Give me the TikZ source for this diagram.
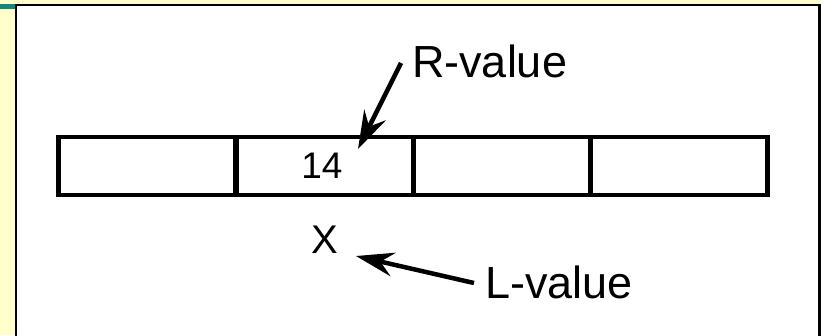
\documentclass[tikz,border=0pt]{standalone}
\usepackage{fontspec}
\setmainfont{Liberation Sans}
\usetikzlibrary{arrows.meta}
\definecolor{bgyellow}{RGB}{255,255,204}
\definecolor{tealbar}{RGB}{20,135,120}
\tikzset{
  cellbox/.style={draw=black, line width=4.5pt, minimum width=177pt, minimum height=58pt, inner sep=0pt, outer sep=0pt},
  lbl/.style={inner sep=0pt, outer sep=0pt, font=\fontsize{45}{54}\selectfont},
  valtxt/.style={inner sep=0pt, outer sep=0pt, font=\fontsize{37}{44}\selectfont},
  ptr/.style={line width=4.5pt, -{Stealth[length=38pt, width=24pt, inset=13pt]}}
}
\begin{document}
\begin{tikzpicture}[x=1pt, y=-1pt]
  \useasboundingbox (0,0) rectangle (821,335);
  \fill[bgyellow] (0,0) rectangle (821,335);
  \fill[tealbar] (0,4) rectangle (15,9);
  \fill[white] (16,5) rectangle (819.5,340);
  \draw[line width=2.5pt] (16,340) -- (16,5) -- (819.5,5) -- (819.5,340);
  % cells
  \node[cellbox] (c1) at (147,166) {};
  \node[cellbox] (c2) at (325,166) {};
  \node[cellbox] (c3) at (502,166) {};
  \node[cellbox] (c4) at (679,166) {};
  % texts
  \node[valtxt, anchor=base] (v14) at (322,178) {14};
  \node[valtxt, anchor=base, font=\fontsize{40}{48}\selectfont] (xname) at (325,253) {X};
  \node[lbl, anchor=base west] (rlab) at (412,77) {R-value};
  \node[lbl, anchor=base west] (llab) at (485,298) {L-value};
  % arrows
  \coordinate (rtail) at (401,63);
  \coordinate (rtip) at (358,149);
  \coordinate (ltail) at (474,283);
  \coordinate (ltip) at (356,256);
  \draw[ptr] (rtail) -- (rtip);
  \draw[ptr] (ltail) -- (ltip);
\end{tikzpicture}
\end{document}
